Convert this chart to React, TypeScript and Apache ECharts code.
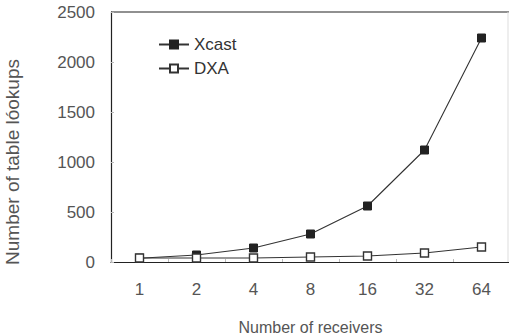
import React, { useEffect, useRef } from "react";
import * as echarts from "echarts";

const categories = ["1", "2", "4", "8", "16", "32", "64"];
const xcast = [38, 70, 140, 280, 560, 1120, 2240];
const dxa = [40, 40, 40, 50, 60, 90, 150];

export default function App() {
  const ref = useRef<HTMLDivElement>(null);
  useEffect(() => {
    const chart = echarts.init(ref.current!, null, { renderer: "svg" });
    const font = "'Liberation Sans', Arial, sans-serif";
    chart.setOption({
      animation: false,
      backgroundColor: "#fff",
      textStyle: { fontFamily: font },
      grid: { left: 111, right: -1, top: 12, bottom: 74, outerBoundsMode: "none", containLabel: false },
      legend: {
        left: 153,
        top: 31,
        orient: "vertical",
        itemGap: 7,
        itemWidth: 30,
        itemHeight: 10,
        textStyle: { fontSize: 17, color: "#333", fontFamily: font },
        data: ["Xcast", "DXA"],
      },
      xAxis: {
        type: "category",
        data: categories,
        boundaryGap: true,
        name: "Number of receivers",
        nameLocation: "middle",
        nameGap: 57,
        nameTextStyle: { fontSize: 16, color: "#555" },
        axisLine: { lineStyle: { color: "#222", width: 1.2 } },
        axisTick: { show: true, inside: true, length: 3, lineStyle: { color: "#bbb" } },
        axisLabel: { fontSize: 17, color: "#555", margin: 19 },
      },
      yAxis: {
        type: "value",
        min: 0,
        max: 2500,
        interval: 500,
        name: "Number of table lóokups",
        nameLocation: "middle",
        nameGap: 89,
        nameTextStyle: { fontSize: 19, color: "#555", padding: [0, 50, 0, 0] },
        axisLine: { show: true, lineStyle: { color: "#222", width: 1.2 } },
        axisTick: { show: true, inside: true, length: 3, lineStyle: { color: "#bbb" } },
        axisLabel: { fontSize: 17, color: "#555", margin: 16, formatter: (v: number) => String(v) },
        splitLine: { show: false },
      },
      series: [
        {
          name: "Xcast",
          type: "line",
          data: xcast,
          symbol: "rect",
          symbolSize: 8,
          lineStyle: { color: "#333", width: 1.1 },
          itemStyle: { color: "#222", borderColor: "#222", borderWidth: 1 },
          z: 2,
        },
        {
          name: "DXA",
          type: "line",
          data: dxa,
          symbol: "rect",
          symbolSize: 8,
          lineStyle: { color: "#333", width: 1.1 },
          itemStyle: { color: "#fff", borderColor: "#333", borderWidth: 1.4 },
          z: 3,
        },
      ],
      graphic: [
        {
          type: "line",
          shape: { x1: 111, y1: 12, x2: 509, y2: 12 },
          style: { stroke: "#222", lineWidth: 1.2 },
        },
        {
          type: "line",
          shape: { x1: 508, y1: 12, x2: 508, y2: 262 },
          style: { stroke: "#ddd", lineWidth: 1 },
        },
      ],
    });
    return () => chart.dispose();
  }, []);
  return <div ref={ref} style={{ width: 509, height: 336, position: "absolute", left: 0, top: 0 }} />;
}
